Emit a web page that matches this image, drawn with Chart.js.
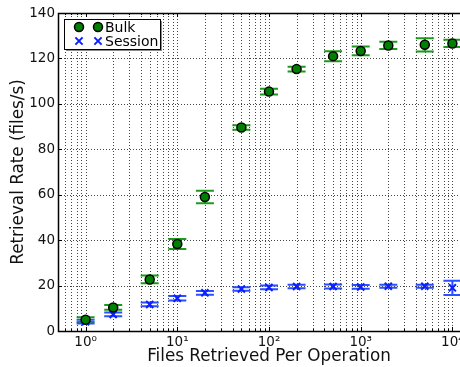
<!DOCTYPE html>
<html>
<head>
<meta charset="utf-8">
<script src="https://cdn.jsdelivr.net/npm/chart.js@4/dist/chart.umd.min.js"></script>
<style>
  html, body { margin: 0; padding: 0; background: #fff; overflow: hidden; }
  #wrap { width: 460px; height: 367px; overflow: hidden; }
  canvas { display: block; }
</style>
</head>
<body>
<div id="wrap"><canvas id="c" width="500" height="367"></canvas></div>
<script>
// Files retrieved per operation (log scale)
const filesPerOp = [1, 2, 5, 10, 20, 50, 100, 200, 500, 1000, 2000, 5000, 10000];

// Bulk retrieval: mean rate and error (files/s)
const bulkRate = [5.0, 10.4, 22.7, 38.3, 59.0, 89.6, 105.4, 115.3, 121.0, 123.3, 125.7, 126.0, 126.6];
const bulkErr  = [1.0, 1.0, 1.7, 2.2, 2.8, 1.0, 1.3, 1.0, 2.2, 1.9, 1.6, 2.9, 1.6];

// Session retrieval: mean rate and error (files/s)
const sessionRate = [4.1, 7.3, 11.7, 14.4, 16.8, 18.5, 19.2, 19.6, 19.6, 19.4, 19.7, 19.7, 19.0];
const sessionErr  = [0.8, 0.8, 0.8, 1.0, 0.8, 0.8, 0.8, 0.8, 0.9, 0.8, 0.7, 0.7, 3.1];

// Axis ticks
const xMajorTicks = [1, 10, 100, 1000, 10000];
const yTicks = [0, 20, 40, 60, 80, 100, 120, 140];
const xRange = [0.5, 20000];

const FONT = "'DejaVu Sans', 'Liberation Sans', sans-serif";
const SUP = { '0': '\u2070', '1': '\u00b9', '2': '\u00b2', '3': '\u00b3', '4': '\u2074' };

// minor + major positions for the log axis
function logTickValues(min, max) {
  const out = [];
  for (let e = -1; e <= 5; e++) {
    for (let m = 1; m <= 9; m++) {
      const v = m * Math.pow(10, e);
      if (v >= min - 1e-9 && v <= max + 1e-9) out.push(+v.toPrecision(6));
    }
  }
  return out;
}
const xAllTicks = logTickValues(xRange[0], xRange[1]);

function toPoints(xs, ys) { return xs.map((x, i) => ({ x: x, y: ys[i] })); }

// Dotted grid, spines and inward tick marks
const frame = {
  id: 'frame',
  beforeDatasetsDraw(chart) {
    const { ctx, chartArea: a, scales: { x, y } } = chart;
    ctx.save();
    ctx.strokeStyle = '#444';
    ctx.lineWidth = 1;
    ctx.setLineDash([1, 2]);
    xAllTicks.forEach(v => {
      const px = Math.round(x.getPixelForValue(v)) + 0.5;
      if (px <= a.left + 1 || px >= a.right - 1) return;
      ctx.beginPath(); ctx.moveTo(px, a.top); ctx.lineTo(px, a.bottom); ctx.stroke();
    });
    yTicks.forEach(v => {
      const py = Math.round(y.getPixelForValue(v)) + 0.5;
      if (py <= a.top + 1 || py >= a.bottom - 1) return;
      ctx.beginPath(); ctx.moveTo(a.left, py); ctx.lineTo(a.right, py); ctx.stroke();
    });
    ctx.restore();
  },
  afterDatasetsDraw(chart) {
    const { ctx, chartArea: a, scales: { x, y } } = chart;
    ctx.save();
    ctx.strokeStyle = '#000';
    ctx.lineWidth = 1;
    ctx.setLineDash([]);
    // ticks
    ctx.beginPath();
    xAllTicks.forEach(v => {
      const px = Math.round(x.getPixelForValue(v)) + 0.5;
      const len = xMajorTicks.includes(v) ? 4 : 2;
      ctx.moveTo(px, a.bottom); ctx.lineTo(px, a.bottom - len);
      ctx.moveTo(px, a.top); ctx.lineTo(px, a.top + len);
    });
    yTicks.forEach(v => {
      const py = Math.round(y.getPixelForValue(v)) + 0.5;
      ctx.moveTo(a.left, py); ctx.lineTo(a.left + 4, py);
      ctx.moveTo(a.right, py); ctx.lineTo(a.right - 4, py);
    });
    ctx.stroke();
    // spines
    ctx.lineWidth = 1.5;
    ctx.strokeRect(Math.round(a.left) + 0.5, Math.round(a.top) + 0.5,
                   Math.round(a.right - a.left), Math.round(a.bottom - a.top));
    ctx.restore();
  }
};

// Vertical error bars with caps, drawn beneath the markers
const errorBars = {
  id: 'errorBars',
  beforeDatasetsDraw(chart) {
    const { ctx, scales: { x, y } } = chart;
    ctx.save();
    ctx.setLineDash([]);
    chart.data.datasets.forEach(ds => {
      if (!ds.errors) return;
      ctx.strokeStyle = ds.errorColor;
      ctx.lineWidth = 2;
      ds.data.forEach((p, i) => {
        const px = x.getPixelForValue(p.x);
        const lo = y.getPixelForValue(p.y - ds.errors[i]);
        const hi = y.getPixelForValue(p.y + ds.errors[i]);
        ctx.beginPath();
        ctx.moveTo(px, lo); ctx.lineTo(px, hi);
        ctx.moveTo(px - 9, lo); ctx.lineTo(px + 9, lo);
        ctx.moveTo(px - 9, hi); ctx.lineTo(px + 9, hi);
        ctx.stroke();
      });
    });
    ctx.restore();
  }
};

// Legend box in the upper-left corner of the plot
const legendBox = {
  id: 'legendBox',
  afterDraw(chart) {
    const { ctx } = chart;
    const bx = 64, by = 19, bw = 96, bh = 30;
    ctx.save();
    ctx.fillStyle = 'rgba(0,0,0,0.45)';
    ctx.fillRect(bx + 2, by + 2, bw, bh);
    ctx.fillStyle = '#fff';
    ctx.fillRect(bx, by, bw, bh);
    ctx.strokeStyle = '#000';
    ctx.lineWidth = 1;
    ctx.strokeRect(bx + 0.5, by + 0.5, bw, bh);

    const rows = [
      { label: 'Bulk', y: by + 8, ds: chart.data.datasets[0] },
      { label: 'Session', y: by + 22, ds: chart.data.datasets[1] }
    ];
    rows.forEach(r => {
      [79, 98].forEach(mx => {
        if (r.ds.pointStyle === 'circle') {
          ctx.beginPath();
          ctx.arc(mx, r.y, 4.5, 0, Math.PI * 2);
          ctx.fillStyle = r.ds.backgroundColor;
          ctx.fill();
          ctx.lineWidth = 1.5;
          ctx.strokeStyle = r.ds.borderColor;
          ctx.stroke();
        } else {
          const s = 3.6;
          ctx.beginPath();
          ctx.moveTo(mx - s, r.y - s); ctx.lineTo(mx + s, r.y + s);
          ctx.moveTo(mx - s, r.y + s); ctx.lineTo(mx + s, r.y - s);
          ctx.lineWidth = 2;
          ctx.strokeStyle = r.ds.borderColor;
          ctx.stroke();
        }
      });
      ctx.fillStyle = '#000';
      ctx.font = '14px ' + FONT;
      ctx.textBaseline = 'middle';
      ctx.textAlign = 'left';
      ctx.fillText(r.label, 105, r.y + 1);
    });
    ctx.restore();
  }
};

new Chart(document.getElementById('c'), {
  type: 'scatter',
  data: {
    datasets: [
      {
        label: 'Bulk',
        data: toPoints(filesPerOp, bulkRate),
        errors: bulkErr,
        errorColor: '#1c9a1c',
        pointStyle: 'circle',
        pointRadius: 4.5,
        pointHoverRadius: 4.5,
        backgroundColor: '#008000',
        borderColor: '#000',
        borderWidth: 1.5
      },
      {
        label: 'Session',
        data: toPoints(filesPerOp, sessionRate),
        errors: sessionErr,
        errorColor: '#2a50ff',
        pointStyle: 'crossRot',
        pointRadius: 5,
        pointHoverRadius: 5,
        backgroundColor: '#0000ff',
        borderColor: '#0a1eff',
        borderWidth: 2
      }
    ]
  },
  options: {
    responsive: false,
    animation: false,
    devicePixelRatio: 1,
    layout: { padding: { top: 13, right: 20, left: 0, bottom: 0 } },
    plugins: { legend: { display: false }, tooltip: { enabled: false } },
    scales: {
      x: {
        type: 'logarithmic',
        min: xRange[0],
        max: xRange[1],
        afterBuildTicks(scale) { scale.ticks = xAllTicks.map(v => ({ value: v })); },
        afterFit(scale) { scale.height = 36; },
        grid: { display: false, drawTicks: false },
        border: { display: false },
        ticks: {
          autoSkip: false,
          maxRotation: 0,
          minRotation: 0,
          padding: 3,
          color: '#111',
          font: { family: FONT, size: 13.5 },
          callback(v) {
            if (!xMajorTicks.includes(v)) return '';
            const e = Math.round(Math.log10(v));
            return '10' + SUP[String(e)];
          }
        },
        title: {
          display: true,
          text: 'Files Retrieved Per Operation',
          color: '#111',
          font: { family: FONT, size: 16.8 },
          padding: { top: 0, bottom: 0 }
        }
      },
      y: {
        min: 0,
        max: 140,
        afterBuildTicks(scale) { scale.ticks = yTicks.map(v => ({ value: v })); },
        afterFit(scale) { scale.width = 58; },
        grid: { display: false, drawTicks: false },
        border: { display: false },
        ticks: {
          padding: 3,
          color: '#111',
          font: { family: FONT, size: 13.5 }
        },
        title: {
          display: true,
          text: 'Retrieval Rate (files/s)',
          color: '#111',
          font: { family: FONT, size: 16.8 },
          padding: { top: 9, bottom: 0 }
        }
      }
    }
  },
  plugins: [frame, errorBars, legendBox]
});
</script>
</body>
</html>
